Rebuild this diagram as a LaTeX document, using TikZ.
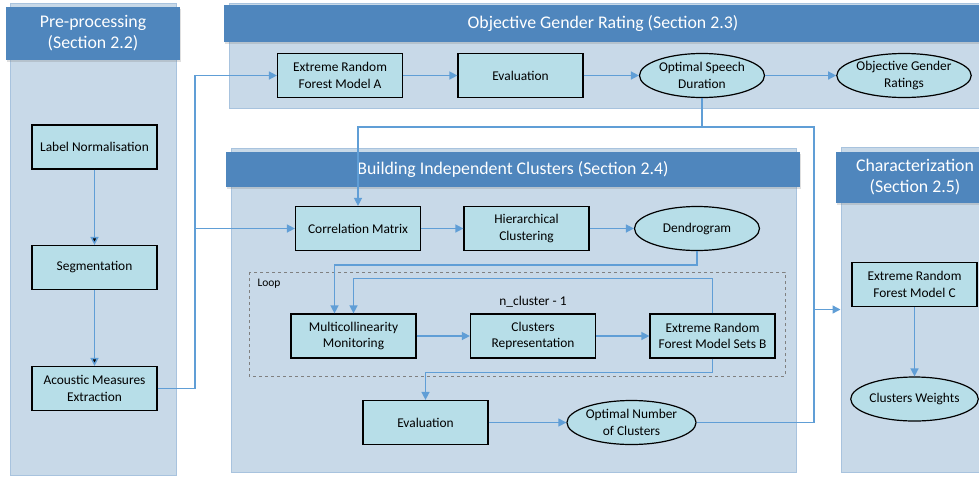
\documentclass[tikz,border=0pt]{standalone}
\usepackage{fontspec}
\setmainfont{Carlito}
\usetikzlibrary{shapes.geometric, arrows.meta, shadows}
\definecolor{pnfill}{RGB}{200,217,232}
\definecolor{pnline}{RGB}{168,195,222}
\definecolor{hdfill}{RGB}{79,134,189}
\definecolor{bxfill}{RGB}{183,222,232}
\definecolor{arline}{RGB}{96,158,214}
\tikzset{ bx/.style = { rectangle
                      , draw         = black
                      , line width   = 1.2pt
                      , fill         = bxfill
                      , align        = center
                      , minimum width  = 125pt
                      , minimum height = 44pt
                      , font = \fontsize{13.4}{16.5}\selectfont
                      },
          el/.style = { ellipse
                      , draw         = black
                      , line width   = 1.2pt
                      , fill         = bxfill
                      , align        = center
                      , inner sep    = 0pt
                      , minimum width  = 125pt
                      , minimum height = 44pt
                      , font = \fontsize{13.4}{16.5}\selectfont
                      },
          pn/.style = { rectangle
                      , draw         = pnline
                      , line width   = 1pt
                      , fill         = pnfill
                      },
          hd/.style = { rectangle
                      , fill         = hdfill
                      , text         = white
                      , align        = center
                      , font = \fontsize{17.8}{21}\selectfont
                      , drop shadow  = {opacity=0.25, shadow xshift=1pt, shadow yshift=-2pt}
                      },
          ar/.style = { draw = arline
                      , line width = 1.4pt
                      , -{Triangle[length=8pt, width=8pt]}
                      },
          ln/.style = { draw = arline
                      , line width = 1.4pt
                      }
        }
\begin{document}
\begin{tikzpicture}[x=1pt, y=-1pt]
\useasboundingbox (0,0) rectangle (979,477);
% panels
\node[pn, minimum width=166pt, minimum height=472pt] (pp) at (93,239) {};
\node[pn, minimum width=753pt, minimum height=105pt] (po) at (605.5,55.5) {};
\node[pn, minimum width=565pt, minimum height=324pt] (pb) at (513.5,310) {};
\node[pn, minimum width=153pt, minimum height=325pt] (pc) at (917.5,309.5) {};
% headers
\node[hd, minimum width=174pt, minimum height=53pt] (hp) at (93,33.5) {Pre-processing\\(Section 2.2)};
\node[hd, minimum width=758pt, minimum height=37pt] (ho) at (603,23.5) {Objective Gender Rating (Section 2.3)};
\node[hd, minimum width=574pt, minimum height=35pt] (hb) at (513,169.5) {Building Independent Clusters (Section 2.4)};
\node[hd, minimum width=158pt, minimum height=51pt] (hc) at (915,177.5) {Characterization\\(Section 2.5)};
% pre-processing
\node[bx] (lnm) at (94.5,147) {Label Normalisation};
\node[bx] (seg) at (94.5,267.5) {Segmentation};
\node[bx] (acm) at (94.5,388.5) {Acoustic Measures\\Extraction};
% objective gender rating
\node[bx] (rfa) at (340,75.5) {Extreme Random\\Forest Model A};
\node[bx] (ev1) at (520.5,75.5) {Evaluation};
\node[el] (osd) at (702,75.5) {Optimal Speech\\Duration};
\node[el] (ogr) at (904,75.5) {Objective Gender\\Ratings};
% building independent clusters
\node[bx] (cmx) at (358,228.5) {Correlation Matrix};
\node[bx] (hcl) at (526.5,228.5) {Hierarchical\\Clustering};
\node[el] (dgm) at (697,228.5) {Dendrogram};
\draw[gray, dashed, line width=0.8pt] (249,272) rectangle (785,376);
\node[font=\fontsize{11.5}{14}\selectfont] (lp) at (269,284) {Loop};
\node[font=\fontsize{13.4}{16.5}\selectfont] (nc) at (533,302) {n\_cluster - 1};
\node[bx] (mcm) at (353.5,336) {Multicollinearity\\Monitoring};
\node[bx] (crp) at (533,336) {Clusters\\Representation};
\node[bx] (rfb) at (712.5,336) {Extreme Random\\Forest Model Sets B};
\node[bx] (ev2) at (425.5,422.5) {Evaluation};
\node[el] (onc) at (631.5,422.5) {Optimal Number\\of Clusters};
% characterization
\node[bx] (rfc) at (914.5,284.5) {Extreme Random\\Forest Model C};
\node[el] (cwt) at (914.5,399) {Clusters Weights};
% connectors
\coordinate (s1) at (195,228.5);
\coordinate (s2) at (702,127);
\coordinate (s3) at (814,309.5);
\path[ar] (lnm) edge (seg);
\path[ar] (seg) edge (acm);
\draw[ar] (acm.east) -| (s1) |- (rfa.west);
\draw[ar] (s1) -- (cmx.west);
\draw[ar] (rfa) -- (ev1);
\draw[ar] (ev1) -- (osd);
\draw[ar] (osd) -- (ogr);
\draw[ar] (osd.south) -- (s2) -| (cmx.north);
\draw[ar] (s2) -| (s3) -- (pc.west);
\draw[ar] (cmx) -- (hcl);
\draw[ar] (hcl) -- (dgm);
\draw[ar] (dgm.south) -- ++(0,14) -| ([xshift=-19pt]mcm.north);
\draw[ar] (rfb.north) -- ++(0,-35) -| (mcm.north);
\draw[ar] (mcm) -- (crp);
\draw[ar] (crp) -- (rfb);
\draw[ar] (rfb.south) -- ++(0,14) -| (ev2.north);
\draw[ar] (ev2) -- (onc);
\draw[ln] (onc.east) -| (s3);
\draw[ar] (rfc) -- (cwt);
\end{tikzpicture}
\end{document}
